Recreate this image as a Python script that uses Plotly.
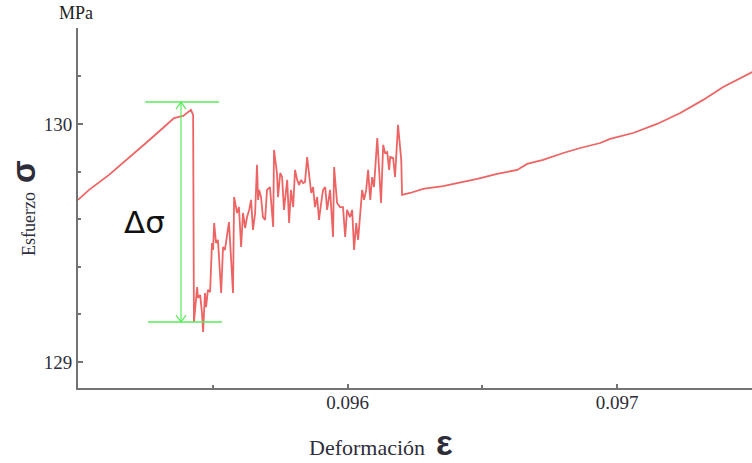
import plotly.graph_objects as go

# Strain (deformación) values
strain = [0.095000, 0.095041, 0.095115, 0.095189, 0.095252, 0.095315, 0.095356, 0.095390, 0.095419, 0.095427,
          0.095430, 0.095442, 0.095445, 0.095453, 0.095460, 0.095464, 0.095471, 0.095475, 0.095482, 0.095490,
          0.095497, 0.095501, 0.095505, 0.095512, 0.095519, 0.095523, 0.095531, 0.095538, 0.095545, 0.095560,
          0.095575, 0.095579, 0.095590, 0.095597, 0.095605, 0.095612, 0.095620, 0.095627, 0.095635, 0.095642,
          0.095649, 0.095657, 0.095664, 0.095668, 0.095672, 0.095679, 0.095686, 0.095694, 0.095701, 0.095712,
          0.095724, 0.095727, 0.095738, 0.095742, 0.095750, 0.095757, 0.095764, 0.095776, 0.095783, 0.095790,
          0.095798, 0.095805, 0.095813, 0.095820, 0.095827, 0.095835, 0.095842, 0.095850, 0.095857, 0.095865,
          0.095872, 0.095879, 0.095887, 0.095894, 0.095902, 0.095909, 0.095917, 0.095924, 0.095935, 0.095946,
          0.095950, 0.095961, 0.095972, 0.095983, 0.095991, 0.095998, 0.096009, 0.096017, 0.096024, 0.096032,
          0.096039, 0.096046, 0.096054, 0.096061, 0.096069, 0.096076, 0.096084, 0.096091, 0.096098, 0.096110,
          0.096117, 0.096124, 0.096132, 0.096139, 0.096147, 0.096154, 0.096158, 0.096169, 0.096176, 0.096187,
          0.096199, 0.096202, 0.096232, 0.096280, 0.096354, 0.096429, 0.096481, 0.096555, 0.096629, 0.096666,
          0.096725, 0.096800, 0.096863, 0.096937, 0.096974, 0.097059, 0.097148, 0.097234, 0.097319, 0.097393,
          0.097501]

# Stress (esfuerzo) values in MPa
stress = [129.681, 129.723, 129.786, 129.857, 129.920, 129.983, 130.025, 130.034, 130.059, 130.038,
          129.168, 129.315, 129.269, 129.282, 129.206, 129.126, 129.290, 129.231, 129.303, 129.294,
          129.500, 129.471, 129.584, 129.500, 129.513, 129.441, 129.290, 129.483, 129.471, 129.588,
          129.290, 129.693, 129.626, 129.651, 129.483, 129.626, 129.563, 129.609, 129.639, 129.681,
          129.555, 129.626, 129.828, 129.681, 129.723, 129.693, 129.609, 129.597, 129.723, 129.735,
          129.567, 129.891, 129.794, 129.693, 129.794, 129.777, 129.639, 129.765, 129.584, 129.723,
          129.651, 129.807, 129.765, 129.744, 129.765, 129.752, 129.756, 129.861, 129.777, 129.710,
          129.735, 129.651, 129.693, 129.597, 129.668, 129.723, 129.735, 129.639, 129.723, 129.525,
          129.819, 129.668, 129.651, 129.651, 129.525, 129.639, 129.609, 129.639, 129.471, 129.584,
          129.513, 129.626, 129.723, 129.681, 129.723, 129.807, 129.681, 129.777, 129.735, 129.941,
          129.807, 129.668, 129.912, 129.878, 129.882, 129.807, 129.861, 129.857, 129.777, 129.996,
          129.849, 129.702, 129.710, 129.727, 129.739, 129.756, 129.769, 129.790, 129.807, 129.832,
          129.849, 129.878, 129.899, 129.920, 129.937, 129.962, 130.000, 130.046, 130.101, 130.155,
          130.218]

# Delta-sigma marker (upper / lower stress levels and position)
dsig_top = 130.092
dsig_bot = 129.168
dsig_x = 0.095382
top_bar = [0.095249, 0.095523]
bot_bar = [0.095260, 0.095534]
dsig_label_pos = (0.095245, 129.588)

x_ticks = [0.096, 0.097]
x_ticktext = ["0.096", "0.097"]
y_ticks = [129, 130]
y_ticktext = ["129", "130"]

RED = "rgba(234,78,78,0.88)"
GREEN = "rgb(90,235,90)"
AXIS = "#737373"
TXT = "#2e2e3a"
SERIF = "Liberation Serif, Times New Roman, serif"

fig = go.Figure()
fig.add_trace(go.Scatter(x=strain, y=stress, mode="lines",
                         line=dict(color=RED, width=1.8), hoverinfo="skip"))

shapes = [
    dict(type="line", xref="x", yref="y", x0=top_bar[0], x1=top_bar[1], y0=dsig_top, y1=dsig_top,
         line=dict(color=GREEN, width=1.6)),
    dict(type="line", xref="x", yref="y", x0=bot_bar[0], x1=bot_bar[1], y0=dsig_bot, y1=dsig_bot,
         line=dict(color=GREEN, width=1.6)),
    dict(type="line", xref="x", yref="y", x0=dsig_x, x1=dsig_x, y0=dsig_top, y1=dsig_bot,
         line=dict(color=GREEN, width=1.2)),
    # open chevron arrowheads
    dict(type="path", xref="x", yref="y", xsizemode="pixel", ysizemode="pixel",
         xanchor=dsig_x, yanchor=dsig_top, path="M -5,-7 L 0,0 L 5,-7",
         line=dict(color=GREEN, width=1.2)),
    dict(type="path", xref="x", yref="y", xsizemode="pixel", ysizemode="pixel",
         xanchor=dsig_x, yanchor=dsig_bot, path="M -5,7 L 0,0 L 5,7",
         line=dict(color=GREEN, width=1.2)),
]

annotations = [
    dict(text="MPa", xref="paper", yref="paper", x=0.0, y=1.0, xanchor="center", yanchor="bottom",
         yshift=3, xshift=-2, showarrow=False, font=dict(family=SERIF, size=18, color="#222222")),
    dict(text="Esfuerzo  <span style='font-family:Liberation Sans;font-size:33px'><b>σ</b></span>",
         xref="paper", yref="paper",
         x=0, xshift=-55, y=0.5, textangle=-90, showarrow=False, xanchor="center", yanchor="middle",
         font=dict(family=SERIF, size=18, color=TXT)),
    dict(text="Deformación  <span style='font-family:Liberation Sans;font-size:35px'><b>ε</b></span>",
         xref="paper", yref="paper",
         x=0.45, y=0, yshift=-54, showarrow=False, xanchor="center", yanchor="middle",
         font=dict(family=SERIF, size=22, color=TXT)),
    dict(text="Δσ", xref="x", yref="y", x=dsig_label_pos[0], y=dsig_label_pos[1], showarrow=False,
         xanchor="center", yanchor="middle",
         font=dict(family="DejaVu Sans, Arial, sans-serif", size=31, color="#111111")),
]

fig.update_layout(
    width=752, height=463,
    margin=dict(l=78, r=0, t=28, b=75),
    paper_bgcolor="white", plot_bgcolor="white",
    showlegend=False,
    shapes=shapes,
    annotations=annotations,
    xaxis=dict(range=[0.095, 0.0975], tickvals=x_ticks, ticktext=x_ticktext,
               ticks="inside", ticklen=4, tickwidth=1.5, tickcolor=AXIS,
               showline=True, linecolor=AXIS, linewidth=1.8, showgrid=False, zeroline=False,
               ticklabelstandoff=-4,
               tickfont=dict(family=SERIF, size=19, color=TXT),
               minor=dict(dtick=0.0005, tick0=0.095, ticks="inside", ticklen=3, tickcolor=AXIS, showgrid=False)),
    yaxis=dict(range=[128.891, 130.403], tickvals=y_ticks, ticktext=y_ticktext,
               ticks="inside", ticklen=5, tickwidth=1.5, tickcolor=AXIS,
               showline=True, linecolor=AXIS, linewidth=1.8, showgrid=False, zeroline=False,
               tickfont=dict(family=SERIF, size=19, color=TXT),
               minor=dict(dtick=0.2, tick0=129, ticks="inside", ticklen=3, tickcolor=AXIS, showgrid=False)),
)

fig.write_html("out.html")
